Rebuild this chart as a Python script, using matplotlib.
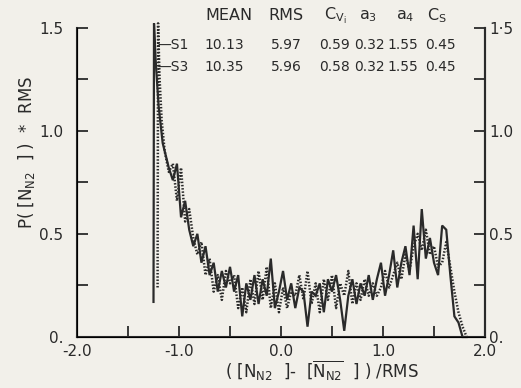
import matplotlib
matplotlib.use("Agg")
import matplotlib.pyplot as plt
from matplotlib.ticker import MultipleLocator, FixedLocator, FixedFormatter

plt.rcParams["font.family"] = ["DejaVu Sans"]

# ---------------- data ----------------
grid_x = [-1.10, -1.06, -1.02, -0.98, -0.94, -0.90, -0.86, -0.82, -0.78, -0.74,
          -0.70, -0.66, -0.62, -0.58, -0.54, -0.50, -0.46, -0.42, -0.38, -0.34,
          -0.30, -0.26, -0.22, -0.18, -0.14, -0.10, -0.06, -0.02, 0.02, 0.06,
          0.10, 0.14, 0.18, 0.22, 0.26, 0.30, 0.34, 0.38, 0.42, 0.46,
          0.50, 0.54, 0.58, 0.62, 0.66, 0.70, 0.74, 0.78, 0.82, 0.86,
          0.90, 0.94, 0.98, 1.02, 1.06, 1.10, 1.14, 1.18, 1.22, 1.26,
          1.30, 1.34, 1.38, 1.42, 1.46, 1.50, 1.54, 1.58, 1.62, 1.66,
          1.70, 1.74, 1.78, 1.82]

s1_grid = [0.82, 0.76, 0.84, 0.58, 0.66, 0.52, 0.44, 0.50, 0.36, 0.44,
           0.30, 0.36, 0.22, 0.32, 0.24, 0.34, 0.22, 0.30, 0.10, 0.26,
           0.18, 0.30, 0.16, 0.28, 0.20, 0.38, 0.14, 0.22, 0.32, 0.18,
           0.26, 0.14, 0.24, 0.22, 0.05, 0.22, 0.20, 0.26, 0.12, 0.28,
           0.22, 0.30, 0.18, 0.03, 0.20, 0.28, 0.16, 0.26, 0.20, 0.30,
           0.18, 0.28, 0.36, 0.20, 0.30, 0.42, 0.24, 0.36, 0.44, 0.30,
           0.54, 0.28, 0.62, 0.38, 0.48, 0.36, 0.30, 0.54, 0.52, 0.30,
           0.10, 0.07, 0.00, 0.00]

s3_grid = [0.80, 0.84, 0.66, 0.82, 0.56, 0.62, 0.48, 0.40, 0.46, 0.30,
           0.38, 0.22, 0.30, 0.18, 0.32, 0.26, 0.30, 0.14, 0.24, 0.12,
           0.28, 0.16, 0.32, 0.18, 0.34, 0.14, 0.26, 0.12, 0.24, 0.14,
           0.22, 0.20, 0.30, 0.18, 0.32, 0.16, 0.26, 0.12, 0.28, 0.18,
           0.30, 0.14, 0.26, 0.20, 0.32, 0.16, 0.26, 0.18, 0.28, 0.20,
           0.26, 0.20, 0.24, 0.32, 0.24, 0.30, 0.36, 0.28, 0.40, 0.32,
           0.44, 0.50, 0.42, 0.52, 0.40, 0.44, 0.34, 0.36, 0.46, 0.34,
           0.22, 0.12, 0.05, 0.00]

# leading spike of each distribution
s1_lead_x = [-1.25, -1.245, -1.23, -1.20, -1.16, -1.13]
s1_lead_y = [0.17, 1.52, 1.35, 1.12, 0.94, 0.88]
s3_lead_x = [-1.21, -1.205, -1.19, -1.17, -1.14]
s3_lead_y = [0.24, 1.52, 1.25, 1.05, 0.90]

header = ["MEAN", "RMS", r"C$_{\mathrm{V_i}}$", r"a$_3$", r"a$_4$", r"C$_\mathrm{S}$"]
rows = [["—S1", "10.13", "5.97", "0.59", "0.32", "1.55", "0.45"],
        ["—S3", "10.35", "5.96", "0.58", "0.32", "1.55", "0.45"]]

y_major = [0.0, 0.5, 1.0, 1.5]
y_left_labels = ["0.", "0.5", "1.0", "1.5"]
y_right_labels = ["0.", "0.5", "1.0", "1·5"]
x_major = [-2.0, -1.0, 0.0, 1.0, 2.0]
x_labels = ["-2.0", "-1.0", "0.0", "1.0", "2.0"]

x_title = r"( [N$_{\mathrm{N2}}$  ]-  [$\overline{\mathrm{N}_{\mathrm{N2}}}$  ] ) /RMS"
y_title = r"P( [N$_{\mathrm{N2}}$  ] )  *  RMS"

# ---------------- plot ----------------
W, H = 521, 388
bg = "#f2f0ea"
ink = "#2a2a2a"
fig = plt.figure(figsize=(W / 100, H / 100), dpi=100, facecolor=bg)
ax = fig.add_axes([77 / W, 1 - 337 / H, 408 / W, 309.5 / H])
ax.set_facecolor(bg)

ax.plot(s1_lead_x + grid_x, s1_lead_y + s1_grid, color=ink, lw=1.6,
        solid_joinstyle="miter", clip_on=False)
ax.plot(s3_lead_x + grid_x, s3_lead_y + s3_grid, color=ink, lw=1.8,
        linestyle=(0, (0.6, 0.7)), clip_on=False)

ax.set_xlim(-2.0, 2.0)
ax.set_ylim(0.0, 1.5)
ax.spines["top"].set_visible(False)
for s in ("left", "right", "bottom"):
    ax.spines[s].set_linewidth(1.5)
    ax.spines[s].set_color(ink)

ax.xaxis.set_major_locator(FixedLocator(x_major))
ax.xaxis.set_major_formatter(FixedFormatter(x_labels))
ax.xaxis.set_minor_locator(MultipleLocator(0.5))
ax.yaxis.set_major_locator(FixedLocator(y_major))
ax.yaxis.set_major_formatter(FixedFormatter(y_left_labels))
ax.yaxis.set_minor_locator(MultipleLocator(0.25))
ax.tick_params(axis="both", which="both", direction="in", length=8, width=1.3,
               color=ink, labelcolor=ink, labelsize=11)
ax.tick_params(axis="x", which="both", top=False, pad=5)
ax.tick_params(axis="y", which="both", left=True, right=False, pad=10)

axr = ax.twinx()
axr.set_ylim(0.0, 1.5)
axr.spines["top"].set_visible(False)
axr.spines["right"].set_linewidth(1.5)
axr.spines["right"].set_color(ink)
axr.yaxis.set_major_locator(FixedLocator(y_major))
axr.yaxis.set_major_formatter(FixedFormatter(y_right_labels))
axr.yaxis.set_minor_locator(MultipleLocator(0.25))
axr.tick_params(axis="y", which="both", direction="in", length=8, width=1.3,
                color=ink, labelcolor=ink, labelsize=11, pad=3)

fig.text(322 / W, 1 - 371 / H, x_title, fontsize=12, color=ink, ha="center", va="center")
fig.text(27 / W, 1 - 152 / H, y_title, fontsize=12, color=ink, ha="center", va="center",
         rotation=90)

# statistics table
def ft(x, y, s, size):
    fig.text(x / W, 1 - y / H, s, color=ink, fontsize=size, va="center", ha="left")

head_x = [205, 268, 324, 359, 396, 427]
for hx, h in zip(head_x, header):
    ft(hx, 16, h, 11.5)
col_x = [157, 204, 271, 319, 354, 387, 425]
for ry, row in zip([45, 67], rows):
    for cx, c in zip(col_x, row):
        ft(cx, ry, c, 10)

fig.savefig("out.png", dpi=100, facecolor=bg)
